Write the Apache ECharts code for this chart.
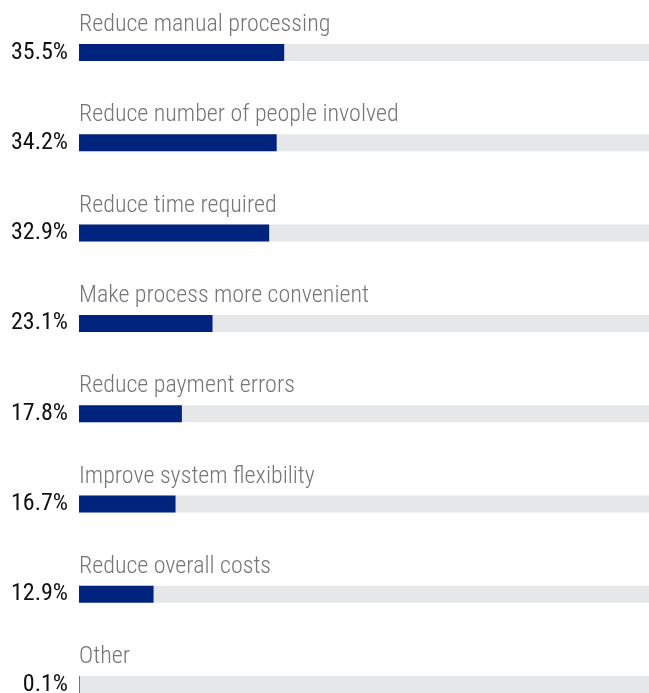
<!DOCTYPE html>
<html>
<head>
<meta charset="utf-8">
<script src="https://cdn.jsdelivr.net/npm/echarts@6/dist/echarts.min.js"></script>
<style>html,body{margin:0;padding:0;background:#fff}#c{width:649px;height:693px}</style>
</head>
<body>
<div id="c"></div>
<script>
const categories = ["Reduce manual processing","Reduce number of people involved","Reduce time required","Make process more convenient","Reduce payment errors","Improve system flexibility","Reduce overall costs","Other"];
const values = [35.5, 34.2, 32.9, 23.1, 17.8, 16.7, 12.9, 0.1];
const valueLabels = ["35.5%","34.2%","32.9%","23.1%","17.8%","16.7%","12.9%","0.1%"];
const FONT = "'Roboto Condensed', 'Liberation Sans Narrow', 'Arial Narrow', Roboto, sans-serif";

const chart = echarts.init(document.getElementById('c'), null, {renderer: 'canvas'});
chart.setOption({
  animation: false,
  backgroundColor: '#ffffff',
  grid: {left: 79, width: 578, top: 7.35, height: 722.4, containLabel: false, outerBoundsMode: 'none'},
  xAxis: {type: 'value', min: 0, max: 100, show: false},
  yAxis: {
    type: 'category', inverse: true, data: categories,
    axisLine: {show: false}, axisTick: {show: false}, splitLine: {show: false},
    axisLabel: {
      margin: 11, fontFamily: FONT, fontSize: 24, color: '#111111',
      formatter: (v, i) => valueLabels[i]
    }
  },
  series: [{
    type: 'bar', data: values, barWidth: 17,
    itemStyle: {color: '#00247d'},
    showBackground: true,
    backgroundStyle: {color: '#e6e7e9'},
    label: {
      show: true, position: [0, -19], align: 'left', verticalAlign: 'middle',
      fontFamily: FONT, fontSize: 24, fontWeight: 300, color: '#767676',
      formatter: p => categories[p.dataIndex]
    }
  }]
});
</script>
</body>
</html>
